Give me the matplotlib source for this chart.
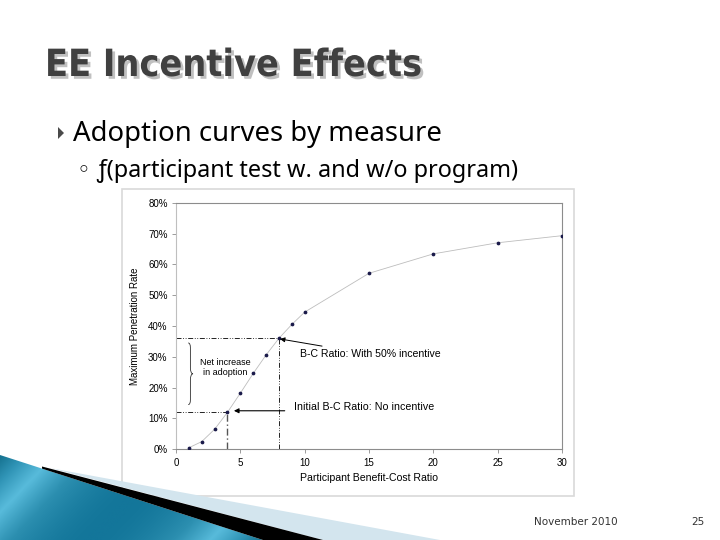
import matplotlib
matplotlib.use("Agg")
import matplotlib.pyplot as plt
import numpy as np
from matplotlib.patches import Polygon, Rectangle, PathPatch
from matplotlib.path import Path
from matplotlib.ticker import FuncFormatter
from matplotlib.colors import LinearSegmentedColormap
import matplotlib.patheffects as pe
from matplotlib import font_manager

# ---- data ----
bc_ratio = [1, 2, 3, 4, 5, 6, 7, 8, 9, 10, 15, 20, 25, 30]
penetration = [0.005, 0.025, 0.065, 0.12, 0.182, 0.246, 0.306, 0.36, 0.405, 0.445, 0.571, 0.634, 0.67, 0.693]
x_ticks = [0, 5, 10, 15, 20, 25, 30]
y_ticks = [0, 0.1, 0.2, 0.3, 0.4, 0.5, 0.6, 0.7, 0.8]
base_bc = 4
incentive_bc = 8

title = "EE Incentive Effects"
bullet = "Adoption curves by measure"
sub_bullet = "\u25e6 \u0192(participant test w. and w/o program)"

W, H = 720, 540
fig = plt.figure(figsize=(7.2, 5.4), dpi=100)
fig.patch.set_facecolor("white")

# overlay axes in pixel coordinates for slide decoration
deco = fig.add_axes([0, 0, 1, 1], zorder=0)
deco.set_xlim(0, W)
deco.set_ylim(H, 0)
deco.axis("off")

# chart panel
deco.add_patch(Rectangle((122, 189), 452, 307, facecolor="white", edgecolor="#d9d9d9", lw=1.2))

# swoosh decoration bottom-left
grad = np.linspace(0, 1, 256)
gx, gy = np.meshgrid(grad, grad)
img = np.sin(np.clip(gx * 1.1 + gy * 0.35, 0, 1.45) * np.pi / 1.45)
cm = LinearSegmentedColormap.from_list("tealgrad", ["#0f6a87", "#2f93b5", "#58bbdb", "#2c8fb0", "#13769a"])
im = deco.imshow(img, extent=(0, 270, 540, 450), cmap=cm, aspect="auto", zorder=1)
teal = Polygon([(0, 455), (263, 540), (0, 540)], closed=True, facecolor="none", edgecolor="none")
deco.add_patch(teal)
im.set_clip_path(teal)
deco.add_patch(Polygon([(50, 468), (440, 540), (323, 540)], closed=True, facecolor="#d3e5ee", edgecolor="none", zorder=1.5))
deco.add_patch(Polygon([(42, 466.5), (323, 540), (263, 540), (42, 468.6)], closed=True, facecolor="black", edgecolor="none", zorder=2))

# title font: prefer a condensed face if available
avail = {f.name for f in font_manager.fontManager.ttflist}
cond = [f for f in font_manager.fontManager.ttflist if f.name == "DejaVu Sans" and "ondensed" in f.fname and f.weight in (700, "bold")]
if "Liberation Sans Narrow" in avail:
    tfam, tstretch, tsize = ["Liberation Sans Narrow", "DejaVu Sans"], "normal", 31
elif cond:
    tfam, tstretch, tsize = ["DejaVu Sans"], "condensed", 27
else:
    tfam, tstretch, tsize = ["Roboto", "DejaVu Sans"], "normal", 26

deco.text(45, 66, title, fontsize=tsize, fontweight="bold", color="#404040", fontstretch=tstretch,
          family=tfam, va="center", ha="left", zorder=3,
          path_effects=[pe.withSimplePatchShadow(offset=(2, -2), shadow_rgbFace="#c0c0c0", alpha=1.0)])

# bullet arrow
deco.add_patch(Polygon([(58, 127), (58, 139), (64, 133)], closed=True, facecolor="#4a4a4a", edgecolor="none"))
deco.text(73, 134, bullet, fontsize=19.8, color="black", family=["Noto Sans", "DejaVu Sans"], va="center", ha="left")
deco.text(77, 171, sub_bullet, fontsize=16.9, color="black", family=["Noto Sans", "DejaVu Sans"], va="center", ha="left")

# footer
deco.text(576, 522, "November 2010", fontsize=7.5, color="#333333", family=["DejaVu Sans"], va="center", ha="center")
deco.text(698, 522, "25", fontsize=7.5, color="#333333", family=["DejaVu Sans"], va="center", ha="center")

# ---- chart ----
ax = fig.add_axes([176 / W, 1 - 449.3 / H, (562 - 176) / W, (449.3 - 202.7) / H], zorder=2)
ax.set_facecolor("white")
chart_font = ["Liberation Sans", "DejaVu Sans"]

ax.plot(bc_ratio, penetration, color="#bdbdbd", lw=0.6, marker="o", markersize=1.7,
        markerfacecolor="#1a1a4a", markeredgecolor="#1a1a4a", zorder=3)

ax.set_xlim(0, 30)
ax.set_ylim(0, 0.8)
ax.set_xticks(x_ticks)
ax.set_yticks(y_ticks)
ax.yaxis.set_major_formatter(FuncFormatter(lambda v, p: f"{v*100:.0f}%"))
for s in ax.spines.values():
    s.set_color("#8c8c8c")
    s.set_linewidth(0.8)
ax.spines["left"].set_color("#bfbfbf")
ax.tick_params(axis="both", direction="out", length=3, width=0.6, color="#8c8c8c", labelsize=7, pad=3)
for lab in ax.get_xticklabels() + ax.get_yticklabels():
    lab.set_family(chart_font)
ax.set_xlabel("Participant Benefit-Cost Ratio", fontsize=7.6, family=chart_font, labelpad=4)
ax.set_ylabel("Maximum Penetration Rate", fontsize=7, family=chart_font, labelpad=6)

ls = (0, (6, 2, 1, 2, 1, 2))
y_base = penetration[bc_ratio.index(base_bc)]
y_inc = penetration[bc_ratio.index(incentive_bc)]
ax.plot([0, incentive_bc], [y_inc, y_inc], color="black", lw=0.6, linestyle=ls, zorder=2)
ax.plot([incentive_bc, incentive_bc], [0, y_inc], color="black", lw=0.6, linestyle=ls, zorder=2)
ax.plot([0, base_bc], [y_base, y_base], color="black", lw=0.6, linestyle=ls, zorder=2)
ax.plot([base_bc, base_bc], [0, y_base], color="#555555", lw=1.0, linestyle=(0, (5, 2, 1, 2)), zorder=2)

# curly brace
b0, b1 = 0.145, 0.345
bm = (b0 + b1) / 2
verts = [(0.95, b1), (1.12, b1), (1.12, b1 - 0.015), (1.12, bm + 0.02),
         (1.12, bm), (1.32, bm),
         (1.12, bm), (1.12, bm - 0.02),
         (1.12, b0 + 0.015), (1.12, b0), (0.95, b0)]
codes = [Path.MOVETO, Path.CURVE3, Path.CURVE3, Path.LINETO,
         Path.CURVE3, Path.CURVE3,
         Path.CURVE3, Path.CURVE3,
         Path.LINETO, Path.CURVE3, Path.CURVE3]
ax.add_patch(PathPatch(Path(verts, codes), facecolor="none", edgecolor="#333333", lw=0.6, zorder=3))
ax.text(3.85, 0.265, "Net increase\nin adoption", fontsize=6.5, family=chart_font, ha="center", va="center",
        linespacing=1.1, zorder=4)

ax.annotate("B-C Ratio: With 50% incentive", xy=(8.08, 0.358), xytext=(9.65, 0.308),
            fontsize=7.6, family=chart_font, va="center", ha="left",
            arrowprops=dict(arrowstyle="-|>", color="black", lw=0.7, mutation_scale=7, shrinkA=2, shrinkB=0))
ax.annotate("", xy=(4.5, 0.125), xytext=(8.45, 0.125),
            arrowprops=dict(arrowstyle="-|>", color="black", lw=0.8, mutation_scale=7, shrinkA=0, shrinkB=0))
ax.text(9.15, 0.137, "Initial B-C Ratio: No incentive", fontsize=7.7, family=chart_font, va="center", ha="left")

fig.savefig("out.png", dpi=100)
